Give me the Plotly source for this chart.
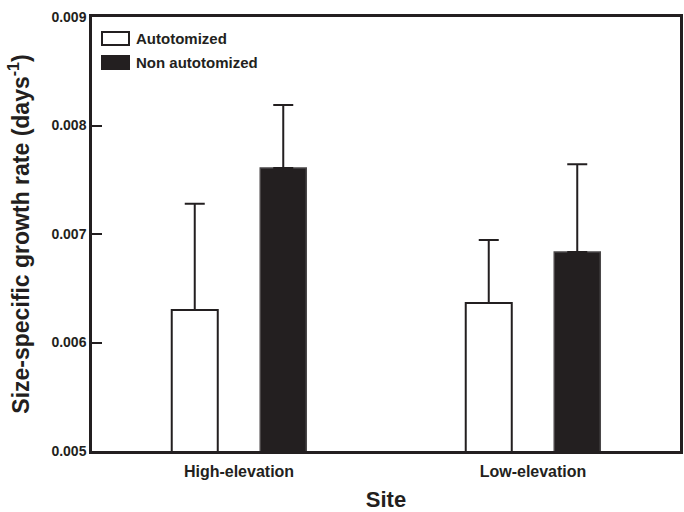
import plotly.graph_objects as go

sites = ["High-elevation", "Low-elevation"]
autotomized = [0.00630, 0.006365]
autotomized_se = [0.000978, 0.00058]
non_autotomized = [0.007608, 0.006834]
non_autotomized_se = [0.000581, 0.00081]
y_ticks = [0.005, 0.006, 0.007, 0.008, 0.009]

INK = "#231f20"
FONT = "Liberation Sans, Arial, sans-serif"

fig = go.Figure()
fig.add_trace(go.Bar(
    x=sites, y=autotomized, name="Autotomized",
    marker=dict(color="white", line=dict(color=INK, width=2)),
    error_y=dict(type="data", array=autotomized_se, symmetric=False,
                 arrayminus=[0, 0], color=INK, thickness=2, width=10),
    showlegend=False,
))
fig.add_trace(go.Bar(
    x=sites, y=non_autotomized, name="Non autotomized",
    marker=dict(color=INK, line=dict(color="#4a4748", width=1.5)),
    error_y=dict(type="data", array=non_autotomized_se, symmetric=False,
                 arrayminus=[0, 0], color=INK, thickness=2, width=10),
    showlegend=False,
))

# legend drawn as swatches + labels
legend_items = [("Autotomized", "white"), ("Non autotomized", INK)]
for i, (label, fill) in enumerate(legend_items):
    y0 = 32 + i * 24
    fig.add_shape(type="rect", xref="paper", yref="paper",
                  x0=(102 - 92) / 588, x1=(129 - 92) / 588,
                  y0=1 - (y0 + 13 - 17) / 434, y1=1 - (y0 - 17) / 434,
                  line=dict(color=INK, width=2), fillcolor=fill)
    fig.add_annotation(text="<b>%s</b>" % label, xref="paper", yref="paper",
                       x=(134 - 92) / 588, y=1 - (y0 + 6.5 - 17) / 434,
                       xanchor="left", yanchor="middle", showarrow=False,
                       font=dict(family=FONT, size=15, color=INK))

fig.update_layout(
    width=684, height=512,
    margin=dict(l=92, r=4, t=17, b=61),
    paper_bgcolor="white", plot_bgcolor="white",
    barmode="group", bargap=0.398, bargroupgap=0.48,
    font=dict(family=FONT, color=INK),
)
fig.update_xaxes(
    showline=True, linecolor=INK, linewidth=2.5, mirror=True,
    ticks="", showgrid=False, zeroline=False, automargin=False,
    ticklabelstandoff=4,
    tickfont=dict(family=FONT, size=16, color=INK),
    tickprefix="<b>", ticksuffix="</b>",
    title=dict(text="<b>Site</b>", font=dict(family=FONT, size=22, color=INK), standoff=14),
)
fig.update_yaxes(
    range=[0.005, 0.009], tickvals=y_ticks,
    ticktext=["<b>%.3f</b>" % v for v in y_ticks],
    showline=True, linecolor=INK, linewidth=2.5, mirror=True,
    ticks="inside", ticklen=10, tickwidth=2, tickcolor=INK,
    showgrid=False, zeroline=False, automargin=False,
    tickfont=dict(family=FONT, size=14, color=INK),
    title=dict(text="<b>Size-specific growth rate (days<sup>-1</sup>)</b>",
               font=dict(family=FONT, size=23, color=INK), standoff=16),
)

fig.write_html("out.html", config={"displayModeBar": False},
               post_script="document.body.style.margin='0px';")
